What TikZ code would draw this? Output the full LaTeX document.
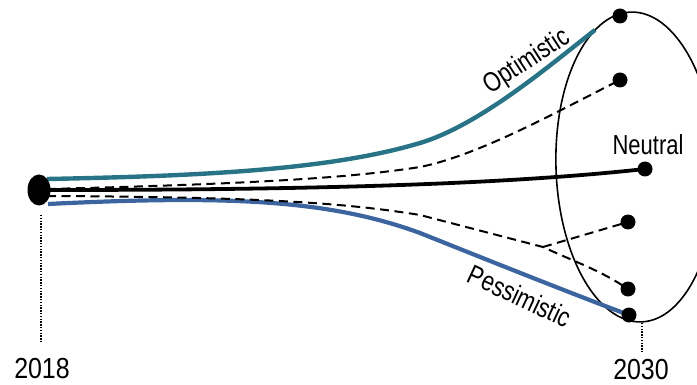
\documentclass[tikz,border=0pt]{standalone}
\usepackage{fontspec}
\setmainfont{Liberation Sans}
\newfontfamily\labelfont[FakeStretch=0.8]{Liberation Sans}
\newfontfamily\yearfont[FakeStretch=0.86]{Liberation Sans}
\usetikzlibrary{shapes.geometric,backgrounds}
\definecolor{optcol}{RGB}{40,116,134}
\definecolor{pescol}{RGB}{60,101,160}
\tikzset{
  enddot/.style={circle,fill=black,inner sep=0pt,minimum size=15pt},
  startdot/.style={ellipse,fill=black,inner sep=0pt,minimum width=23pt,minimum height=31pt},
  optline/.style={draw=optcol,line width=4.4pt},
  pesline/.style={draw=pescol,line width=4.2pt},
  neutline/.style={draw=black,line width=3.8pt},
  dashline/.style={draw=black,line width=2pt,dash pattern=on 9pt off 5.5pt},
  dotline/.style={draw=black,line width=1.6pt,dash pattern=on 1.4pt off 1.4pt},
  lbl/.style={font=\labelfont\fontsize{27.5}{30}\selectfont,inner sep=0pt},
  yr/.style={font=\yearfont\fontsize{29}{32}\selectfont,inner sep=0pt},
}
\begin{document}
\begin{tikzpicture}[x=1pt,y=-1pt]
\useasboundingbox (0,0) rectangle (697,385);
% start
\node[startdot] (s) at (39,190) {};
% end dots
\node[enddot] (d1) at (620,16) {};
\node[enddot] (d2) at (620,80) {};
\node[enddot] (d3) at (645,169) {};
\node[enddot] (d4) at (628,222) {};
\node[enddot] (d5) at (628,289) {};
\node[enddot] (d6) at (629,315) {};
% start points of curves
\coordinate (so) at (47,179);
\coordinate (sp) at (48,204);
\coordinate (sn) at (45,190);
\coordinate (su) at (47,189);
\coordinate (sl) at (47,196);
\coordinate (oe) at (595,30);
\coordinate (br) at (543,247);
\begin{pgfonlayer}{background}
% ellipse of outcomes
\node[draw,ellipse,line width=1.6pt,inner sep=0pt,minimum width=160pt,minimum height=310pt,rotate=2] (ell) at (636,167) {};
% optimistic
\draw[optline] (so) .. controls (200,176) and (330,170) .. (420,143)
   .. controls (480,125) and (550,65) .. (oe);
% pessimistic
\draw[pesline] (sp) .. controls (230,195) and (330,200) .. (420,233)
   .. controls (480,257) and (570,293) .. (d6.center);
% dashed
\draw[dashline] (su) .. controls (250,184) and (350,178) .. (420,167)
   .. controls (480,155) and (560,110) .. (d2.center);
\draw[dashline] (sl) .. controls (250,197) and (340,202) .. (420,215)
   -- (br) .. controls (575,262) and (600,270) .. (d5.center);
\draw[dashline] (br) -- (d4.center);
% neutral
\draw[neutline] (sn) .. controls (300,190) and (500,185) .. (d3.center);
\end{pgfonlayer}
% labels
\node[lbl,rotate=33] (lo) at (527,62) {Optimistic};
\node[lbl,rotate=-25] (lp) at (520,296) {Pessimistic};
\node[lbl] (ln) at (648,145) {Neutral};
% years
\coordinate (t1) at (41,215);
\coordinate (t2) at (642,323);
\coordinate (b1) at (41,343);
\coordinate (b2) at (642,352);
\node[yr] (y1) at (42,369) {2018};
\node[yr] (y2) at (641,370) {2030};
\draw[dotline] (t1) -- (b1);
\draw[dotline] (t2) -- (b2);
\end{tikzpicture}
\end{document}
